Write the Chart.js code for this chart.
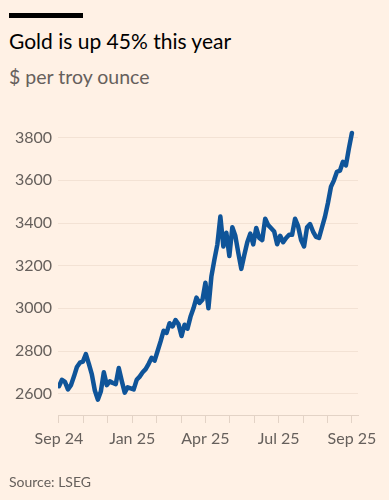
<!DOCTYPE html>
<html>
<head>
<meta charset="utf-8">
<title>Gold is up 45% this year</title>
<script src="https://cdn.jsdelivr.net/npm/chart.js@4.4.1/dist/chart.umd.min.js"></script>
<style>
    html, body {
        margin: 0;
        padding: 0;
        width: 389px;
        height: 500px;
        overflow: hidden;
        background: #FFF1E5;
        font-family: Lato, "Noto Sans", sans-serif;
    }
    #app {
        position: relative;
        width: 389px;
        height: 500px;
    }
    .top-bar {
        position: absolute;
        left: 9px;
        top: 13px;
        width: 74px;
        height: 5px;
        background: #000;
    }
    .title {
        position: absolute;
        left: 9px;
        top: 28px;
        font-size: 21px;
        color: #000;
        white-space: nowrap;
    }
    .subtitle {
        position: absolute;
        left: 9px;
        top: 65px;
        font-size: 19.5px;
        color: #66605C;
        white-space: nowrap;
    }
    .source {
        position: absolute;
        left: 9px;
        top: 473px;
        font-size: 14px;
        color: #66605C;
        white-space: nowrap;
    }
    #chart-box {
        position: absolute;
        left: 0;
        top: 0;
        width: 389px;
        height: 500px;
    }
</style>
</head>
<body>
<div id="app">
    <div class="top-bar"></div>
    <div class="title">Gold is up 45% this year</div>
    <div class="subtitle">$ per troy ounce</div>
    <div id="chart-box"><canvas id="goldChart" width="389" height="500"></canvas></div>
    <div class="source">Source: LSEG</div>
</div>

<script>
/* ==================== DATA ==================== */

// Gold price, $ per troy ounce (roughly every 3-4 days, Sep 24 -> Sep 25)
const GOLD_PRICES = [
    2635, 2665, 2655, 2620, 2640, 2680, 2725, 2745, 2750, 2785,
    2740, 2690, 2615, 2572, 2610, 2700, 2640, 2658, 2650, 2645,
    2720, 2660, 2605, 2630, 2625, 2620, 2665, 2680, 2700, 2715,
    2740, 2768, 2755, 2800, 2845, 2895, 2885, 2930, 2915, 2945,
    2925, 2870, 2923, 2905, 2960, 3000, 3050, 3025, 3040, 3120,
    3000, 3150, 3228, 3300, 3430, 3290, 3354, 3245, 3380, 3340,
    3260, 3185, 3250, 3310, 3350, 3300, 3377, 3330, 3320, 3420,
    3390, 3375, 3360, 3300, 3340, 3310, 3330, 3345, 3345, 3420,
    3385, 3320, 3290, 3380, 3395, 3360, 3335, 3330, 3380, 3430,
    3495, 3570, 3600, 3640, 3645, 3687, 3670, 3750, 3822
];

// Monthly tick marks, only some get a label
const MONTH_TICKS = ['Sep 24', '', '', 'Jan 25', '', '', 'Apr 25', '', '', 'Jul 25', '', '', 'Sep 25'];

// Y axis ticks
const PRICE_TICKS = [2600, 2800, 3000, 3200, 3400, 3600, 3800];

/* ==================== STYLE ==================== */

const FT_BLUE = '#0F5499';
const TEXT_GREY = '#66605C';
const GRID_COLOUR = '#F3E2D4';
const AXIS_COLOUR = '#E3D3C6';

document.addEventListener('DOMContentLoaded', function() {
    initGoldChart();
});

// Spread the points evenly over the 12 months
function buildPoints() {
    const step = (MONTH_TICKS.length - 1) / (GOLD_PRICES.length - 1);
    return GOLD_PRICES.map((price, i) => ({ x: i * step, y: price }));
}

function initGoldChart() {
    const ctx = document.getElementById('goldChart');
    if (!ctx) return;

    new Chart(ctx.getContext('2d'), {
        type: 'line',
        data: {
            datasets: [{
                label: 'Gold',
                data: buildPoints(),
                borderColor: FT_BLUE,
                borderWidth: 4.5,
                borderJoinStyle: 'round',
                borderCapStyle: 'round',
                pointRadius: 0,
                tension: 0,
                fill: false
            }]
        },
        options: {
            responsive: false,
            animation: false,
            layout: {
                padding: { top: 127, right: 31, bottom: 0, left: 0 }
            },
            plugins: {
                legend: { display: false },
                tooltip: { enabled: false }
            },
            scales: {
                x: {
                    type: 'linear',
                    min: -0.04,
                    max: 12.25,
                    afterBuildTicks: function(scale) {
                        scale.ticks = MONTH_TICKS.map((_, i) => ({ value: i }));
                    },
                    afterFit: function(scale) {
                        scale.height = 85;
                    },
                    border: { display: true, color: AXIS_COLOUR, width: 1 },
                    grid: {
                        drawOnChartArea: false,
                        drawTicks: true,
                        tickLength: 8,
                        color: AXIS_COLOUR
                    },
                    ticks: {
                        autoSkip: false,
                        maxRotation: 0,
                        padding: 6,
                        color: TEXT_GREY,
                        font: { family: 'Lato', size: 16 },
                        callback: function(value, index) {
                            return MONTH_TICKS[index];
                        }
                    }
                },
                y: {
                    min: 2500,
                    max: 3850,
                    afterBuildTicks: function(scale) {
                        scale.ticks = PRICE_TICKS.map(v => ({ value: v }));
                    },
                    afterFit: function(scale) {
                        scale.width = 58;
                    },
                    border: { display: false },
                    grid: {
                        drawTicks: false,
                        color: GRID_COLOUR,
                        lineWidth: 1
                    },
                    ticks: {
                        padding: 6,
                        color: TEXT_GREY,
                        font: { family: 'Lato', size: 16 },
                        callback: function(value) {
                            return value;
                        }
                    }
                }
            }
        }
    });
}
</script>
</body>
</html>
